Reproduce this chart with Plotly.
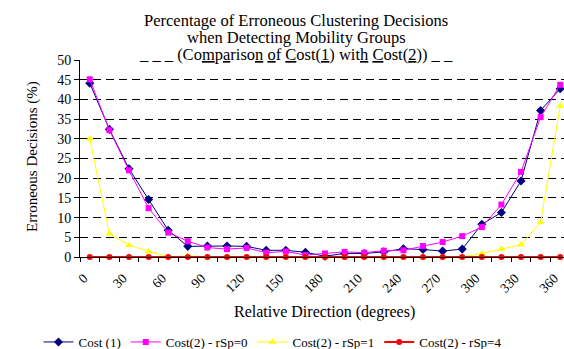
import plotly.graph_objects as go

directions = [0, 15, 30, 45, 60, 75, 90, 105, 120, 135, 150, 165, 180,
              195, 210, 225, 240, 255, 270, 285, 300, 315, 330, 345, 360]
cost1 = [44.1, 32.4, 22.4, 14.6, 6.8, 2.7, 2.8, 2.8, 2.7, 1.7, 1.7, 1.2, 0.2,
         0.9, 0.9, 1.3, 2.1, 1.9, 1.5, 2.0, 8.3, 11.3, 19.3, 37.2, 42.7]
cost2_rsp0 = [45.1, 32.2, 22.0, 12.4, 6.2, 4.0, 2.4, 2.0, 2.3, 1.1, 1.4, 0.5, 0.9,
              1.3, 1.1, 1.6, 1.7, 2.8, 3.8, 5.3, 7.6, 13.3, 21.6, 35.5, 43.7]
cost2_rsp1 = [30.0, 5.9, 3.0, 1.4, 0.0, 0.3, 0.0, 0.0, 0.0, 0.0, 0.0, 0.0, 0.0,
              0.0, 0.0, 0.0, 0.0, 0.0, 0.0, 0.0, 0.9, 2.0, 3.1, 8.9, 38.3]
cost2_rsp4 = [0.0, 0.0, 0.0, 0.0, 0.0, 0.0, 0.0, 0.0, 0.0, 0.0, 0.0, 0.0, 0.0,
              0.0, 0.0, 0.0, 0.0, 0.0, 0.0, 0.0, 0.0, 0.0, 0.0, 0.0, 0.0]
x_tick_labels = ["0", "30", "60", "90", "120", "150", "180", "210", "240",
                 "270", "300", "330", "360"]
x_tick_vals = [0, 30, 60, 90, 120, 150, 180, 210, 240, 270, 300, 330, 360]
y_tick_vals = [0, 5, 10, 15, 20, 25, 30, 35, 40, 45, 50]

title_lines = ["Percentage of Erroneous Clustering Decisions",
               "when Detecting Mobility Groups",
               "_ _ _ (Co<u>m</u>p<u>a</u>riso<u>n</u> <u>o</u>f <u>C</u>ost(<u>1</u>) "
               "wit<u>h</u> <u>C</u>ost(<u>2</u>)) _ _"]

SERIF = "Liberation Serif, Times New Roman, serif"

# plot area in pixels
L, R, T, B = 80, 564, 60, 257
W, H = 564, 349


def px_x(px):
    return (px - L) / (R - L)


def px_y(py):
    return (B - py) / (B - T)


fig = go.Figure()
series = [
    ("Cost (1)", cost1, "#000080", "diamond", 7, 1),
    ("Cost(2) - rSp=0", cost2_rsp0, "#FF00FF", "square", 6, 1),
    ("Cost(2) - rSp=1", cost2_rsp1, "#FFFF00", "triangle-up", 7, 1),
    ("Cost(2) - rSp=4", cost2_rsp4, "#FF0000", "circle", 6, 2),
]
for name, vals, color, sym, size, lw in series:
    fig.add_trace(go.Scatter(
        x=directions, y=vals, name=name, mode="lines+markers",
        line=dict(color=color, width=lw),
        marker=dict(symbol=sym, size=size, color=color, line=dict(width=0)),
        cliponaxis=False,
    ))

annotations = []
for text, cy in zip(title_lines, [20.4, 37.7, 54.9]):
    annotations.append(dict(text=text, xref="paper", yref="paper",
                            x=px_x(296), y=px_y(cy), xanchor="center", yanchor="middle",
                            showarrow=False, font=dict(family=SERIF, size=16.5)))
annotations.append(dict(text="Erroneous Decisions (%)", textangle=-90,
                        xref="paper", yref="paper", x=px_x(32), y=px_y(157),
                        xanchor="center", yanchor="middle", showarrow=False,
                        font=dict(family=SERIF, size=15)))
annotations.append(dict(text="Relative Direction (degrees)", xref="paper", yref="paper",
                        x=px_x(324), y=px_y(312), xanchor="center", yanchor="middle",
                        showarrow=False, font=dict(family=SERIF, size=16)))

fig.update_layout(
    width=W, height=H,
    margin=dict(l=L, r=W - R, t=T, b=H - B, autoexpand=False),
    paper_bgcolor="white", plot_bgcolor="white",
    font=dict(family=SERIF, size=13, color="black"),
    showlegend=True,
    legend=dict(orientation="h", x=px_x(38.5), xanchor="left",
                y=px_y(342), yanchor="middle",
                font=dict(family=SERIF, size=13, color="black"),
                itemwidth=30, bgcolor="rgba(0,0,0,0)"),
    xaxis=dict(
        range=[-7.5, 362.9], showgrid=False, zeroline=False, automargin=False,
        showline=True, linecolor="black", linewidth=1,
        tickmode="array", tickvals=x_tick_vals, ticktext=x_tick_labels,
        ticks="", tickangle=-45, tickfont=dict(family=SERIF, size=13.5),
        ticklabelstandoff=7, ticklabelshift=-6,
        minor=dict(tick0=-7.5, dtick=15, ticks="outside", ticklen=4,
                   tickcolor="black", showgrid=False),
    ),
    yaxis=dict(
        range=[0, 50], showgrid=True, gridcolor="black", griddash="8px,5px",
        gridwidth=1, zeroline=False, showline=True, linecolor="black",
        linewidth=1, tickmode="array", tickvals=y_tick_vals, automargin=False,
        ticks="outside", ticklen=5, tickcolor="black",
        tickfont=dict(family=SERIF, size=14),
    ),
    annotations=annotations,
)

fig.write_html("out.html", config={"displayModeBar": False},
               post_script="document.body.style.margin='0';")
